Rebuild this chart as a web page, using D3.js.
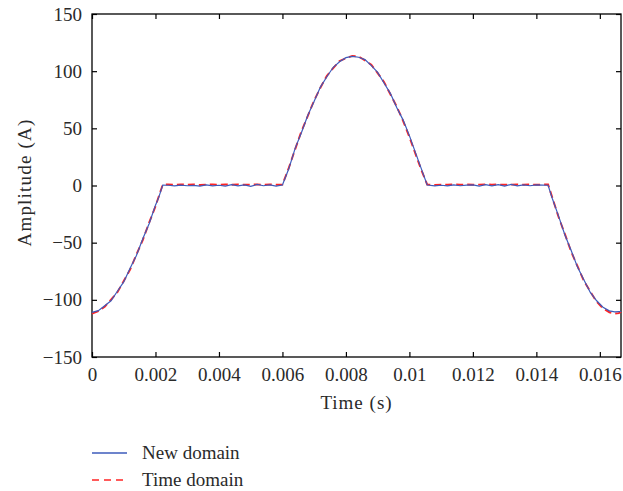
<!DOCTYPE html>
<html>
<head>
<meta charset="utf-8">
<script src="https://cdn.jsdelivr.net/npm/d3@7"></script>
<style>
  body { margin: 0; background: #fff; }
  text { font-family: "Liberation Serif", "DejaVu Serif", serif; fill: #2a2a2a; }
</style>
</head>
<body>
<div id="chart"></div>
<script>
// sample times (ms)
const timeMs = [
  0, 0.2, 0.4, 0.6, 0.8, 1.0, 1.2, 1.4, 1.6, 1.8, 2.0, 2.1, 2.23,
  2.4, 2.6, 2.8, 3.0, 3.2, 3.4, 3.6, 3.8, 4.0, 4.2, 4.4, 4.6, 4.8, 5.0, 5.2, 5.4, 5.6, 5.8, 6.0,
  6.2, 6.4, 6.6, 6.8, 7.0, 7.2, 7.4, 7.6, 7.8, 8.0, 8.2,
  8.4, 8.6, 8.8, 9.0, 9.2, 9.4, 9.6, 9.8, 10.0, 10.2, 10.4, 10.56,
  10.8, 11.0, 11.2, 11.4, 11.6, 11.8, 12.0, 12.2, 12.4, 12.6, 12.8, 13.0, 13.2, 13.4, 13.6, 13.8, 14.0, 14.2, 14.37,
  14.5, 14.7, 14.9, 15.1, 15.3, 15.5, 15.7, 15.9, 16.1, 16.3, 16.47, 16.6, 16.67
];

// New domain (A)
const newDomain = [
  -111, -109.5, -105.2, -100.8, -92.5, -84.3, -72.4, -61.2, -46.6, -33.4, -17.2, -10.6, 0.3,
  0.2, -0.4, 0.3, -0.2, 0.1, -0.5, 0.6, -0.3, 0.2, -0.6, 0.8, -0.4, 0.5, -0.7, 0.9, -0.2, 0.6, -0.5, 0.4,
  14.6, 32.5, 46.4, 61.5, 73.6, 86.3, 95.1, 103.4, 108.2, 111.8, 112.9,
  112.2, 110.1, 104.8, 98.9, 89.7, 80.6, 68.2, 57.4, 43.6, 28.1, 12.8, 0.4,
  -0.3, 0.2, -0.4, 0.5, -0.2, 0.3, 0.6, -0.5, 0.8, -0.3, 0.7, -0.6, 0.9, -0.4, 0.6, -0.2, 0.5, 0.3, 0.2,
  -11.2, -26.8, -43.3, -57.1, -71.6, -82.6, -93.5, -100.8, -106.5, -109.6, -110.6, -110.3, -110.2
];

// Time domain (A)
const timeDomain = [
  -112, -109.9, -106.1, -99.8, -93.4, -83.5, -73.6, -60.4, -47.7, -32.5, -18.2, -9.8, 0.8,
  0.9, 0.6, 1.0, 0.7, 0.9, 0.5, 0.8, 1.0, 0.6, 0.9, 0.7, 1.0, 0.6, 0.8, 0.9, 0.7, 1.0, 0.6, 0.8,
  15.4, 31.6, 47.6, 60.8, 74.5, 85.7, 96.0, 102.7, 108.9, 111.3, 113.4,
  112.8, 109.4, 105.6, 98.3, 90.6, 79.8, 69.1, 56.6, 42.4, 27.0, 11.9, 0.9,
  0.5, 0.8, 0.6, 1.0, 0.7, 0.9, 0.6, 0.8, 1.0, 0.7, 0.9, 0.6, 0.8, 0.9, 0.7, 1.0, 0.6, 0.8, 0.9,
  -10.4, -27.6, -42.5, -58.2, -70.8, -83.6, -92.7, -101.7, -107.4, -110.9, -112.0, -111.6, -110.4
];

const xTicks = [0, 0.002, 0.004, 0.006, 0.008, 0.01, 0.012, 0.014, 0.016];
const xTickLabels = ["0", "0.002", "0.004", "0.006", "0.008", "0.01", "0.012", "0.014", "0.016"];
const yTicks = [-150, -100, -50, 0, 50, 100, 150];
const yTickLabels = ["\u2212150", "\u2212100", "\u221250", "0", "50", "100", "150"];
const seriesNames = ["New domain", "Time domain"];

const width = 623;
const height = 491;
const margin = { top: 14, right: 2, bottom: 134, left: 92 };
const innerW = width - margin.left - margin.right;
const innerH = height - margin.top - margin.bottom;

const svg = d3.select("#chart")
  .append("svg")
  .attr("width", width)
  .attr("height", height);

const g = svg.append("g")
  .attr("transform", `translate(${margin.left}, ${margin.top})`);

const xScale = d3.scaleLinear().domain([0, 1 / 60]).range([0, innerW]);
const yScale = d3.scaleLinear().domain([-150, 150]).range([innerH, 0]);

const fontSize = "19px";
const blue = "#3d5bbb";
const red = "#ff2424";

// axes, ticks pointing inward
const xAxis = d3.axisBottom(xScale).tickValues(xTicks)
  .tickFormat((d, i) => xTickLabels[i]).tickSizeInner(-5).tickSizeOuter(0).tickPadding(11);
const xAxisTop = d3.axisTop(xScale).tickValues(xTicks)
  .tickFormat("").tickSizeInner(-5).tickSizeOuter(0);
const yAxis = d3.axisLeft(yScale).tickValues(yTicks)
  .tickFormat((d, i) => yTickLabels[i]).tickSizeInner(-5).tickSizeOuter(0).tickPadding(10);
const yAxisRight = d3.axisRight(yScale).tickValues(yTicks)
  .tickFormat("").tickSizeInner(-5).tickSizeOuter(0);

g.append("g").attr("transform", `translate(0, ${innerH})`).call(xAxis);
g.append("g").call(xAxisTop);
g.append("g").call(yAxis);
g.append("g").attr("transform", `translate(${innerW}, 0)`).call(yAxisRight);

g.selectAll(".domain").remove();
g.selectAll(".tick line").attr("stroke", "#000").attr("stroke-width", 1.2);
g.selectAll(".tick text").style("font-size", fontSize).style("font-family", "'Liberation Serif', serif").attr("fill", "#2a2a2a");

// frame
g.append("rect")
  .attr("x", 0).attr("y", 0)
  .attr("width", innerW).attr("height", innerH)
  .attr("fill", "none")
  .attr("stroke", "#000")
  .attr("stroke-width", 1.3);

// lines
const line = d3.line()
  .x((d) => xScale(d.t / 1000))
  .y((d) => yScale(d.v));

const timeData = timeMs.map((t, i) => ({ t: t, v: timeDomain[i] }));
const newData = timeMs.map((t, i) => ({ t: t, v: newDomain[i] }));

g.append("path")
  .datum(timeData)
  .attr("fill", "none")
  .attr("stroke", red)
  .attr("stroke-width", 1.9)
  .attr("stroke-dasharray", "7,4")
  .attr("d", line);

g.append("path")
  .datum(newData)
  .attr("fill", "none")
  .attr("stroke", blue)
  .attr("stroke-width", 1.2)
  .attr("d", line);

// axis labels
svg.append("text")
  .attr("x", margin.left + innerW / 2)
  .attr("y", 409)
  .attr("text-anchor", "middle")
  .style("font-size", fontSize)
  .style("letter-spacing", "1px")
  .text("Time (s)");

svg.append("text")
  .attr("transform", `translate(31, ${margin.top + yScale(0) - 3}) rotate(-90)`)
  .attr("text-anchor", "middle")
  .style("font-size", fontSize)
  .style("letter-spacing", "1.2px")
  .text("Amplitude (A)");

// legend
const legend = svg.append("g").attr("transform", "translate(92, 453)");
const legendStyles = [
  { stroke: blue, dash: null },
  { stroke: red, dash: "7,5" }
];
seriesNames.forEach((name, i) => {
  const row = legend.append("g").attr("transform", `translate(0, ${i * 27})`);
  row.append("line")
    .attr("x1", 0).attr("x2", 35)
    .attr("y1", 0).attr("y2", 0)
    .attr("stroke", legendStyles[i].stroke)
    .attr("stroke-width", 1.3)
    .attr("stroke-dasharray", legendStyles[i].dash);
  row.append("text")
    .attr("x", 50)
    .attr("y", 0)
    .attr("dy", "0.33em")
    .style("font-size", fontSize)
    .text(name);
});
</script>
</body>
</html>
